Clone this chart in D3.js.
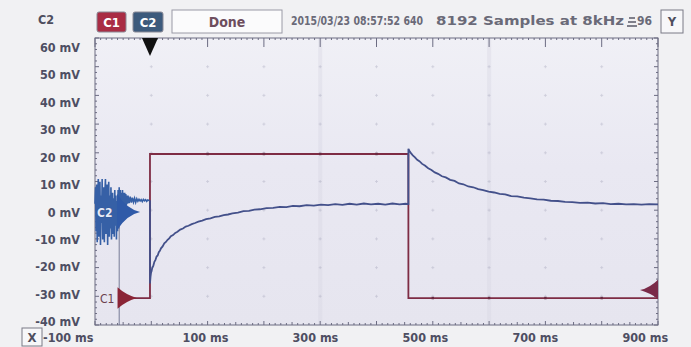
<!DOCTYPE html>
<html>
<head>
<meta charset="utf-8">
<script src="https://cdn.jsdelivr.net/npm/d3@7"></script>
<style>
  html, body { margin: 0; padding: 0; background: #f1f1f3; }
  svg { display: block; }
  text { font-family: "DejaVu Sans Condensed", "DejaVu Sans", sans-serif; }
</style>
</head>
<body>
<svg id="scope" width="691" height="347"></svg>
<script>
// ---- capture data -------------------------------------------------------
const channelNames = ["C1", "C2"];
const statusText = "Done";
const stampText = "2015/03/23 08:57:52 640";
const samplesText = "8192 Samples at 8kHz";
const timeDomain = [-100, 924];          // ms, 8192 samples at 8 kHz
const voltDomain = [-41.1, 63.3];        // mV
const xTickValues = [-100, 100, 300, 500, 700, 900];
const yTickValues = [60, 50, 40, 30, 20, 10, 0, -10, -20, -30, -40];

// C1: stimulus step (ms, mV)
const c1Time = [-58, 0, 0, 470, 470, 924];
const c1Volt = [-31.3, -31.3, 21.1, 21.1, -31.3, -31.3];

// C2: response (ms, mV)
const c2Time = [
  -100,-99,-98,-97,-96,-95,-94,-93,-92,-91,-90,-89,-88,-87,-86,-85,-84,-83,-82,-81,
  -80,-79,-78,-77,-76,-75,-74,-73,-72,-71,-70,-69,-68,-67,-66,-65,-64,-63,-62,-61,
  -60,-59,-58,-57,-56,-55,-54,-53,-52,-51,-50,-49,-48,-47,-46,-45,-44,-43,-42,-41,
  -40,-38,-36,-34,-32,-30,-28,-26,-24,-22,-20,-18,-16,-14,-12,-10,-8,-6,-4,-2,-1,
  0,0,1,2,3,4,6,8,10,12,14,16,18,20,23,26,29,32,35,38,42,46,50,55,60,65,70,76,82,88,95,
  102,110,118,126,134,142,150,160,170,180,190,200,212,224,236,248,260,272,285,298,
  311,324,337,350,363,376,389,402,415,428,441,454,465,470,
  470,472,475,478,482,486,490,495,500,506,512,518,524,531,538,546,554,562,570,579,
  588,597,606,616,626,636,646,657,668,680,692,704,716,729,742,755,768,782,796,810,
  824,838,852,866,880,894,908,924
];
const c2Volt = [
  3,9,-7,10,-11,5,12,-9,2,11,-12,6,-4,12,-10,3,9,-11,7,12,
  -8,-2,10,-12,4,11,-9,6,-6,9,-10,3,7,-8,5,-9,8,-5,6,-10,
  4,-7,8,-6,9,-4,8,-3,7,-1,8,0,7,1,7,2,6.5,2.5,6,3,
  6,3.2,5.6,3.4,5.2,3.6,5,3.5,4.8,3.9,4.6,4,4.5,3.8,4.6,4.1,4.5,3.9,4.4,4.2,4.3,
  4.3,-26,-23.5,-22,-21.5,-20.4,-19.6,-18.1,-17.4,-16.2,-15.8,-14.6,-14.1,-13.2,-12.5,-11.4,-10.9,-10.1,-9.6,-8.8,-8.4,-7.6,-7.2,-6.4,-6.0,-5.3,-5.0,-4.4,-4.0,-3.5,-3.1,
  -2.6,-2.3,-1.8,-1.6,-1.1,-0.9,-0.5,-0.2,0.3,0.4,0.9,1.0,1.4,1.5,1.9,1.8,2.2,2.1,2.5,2.3,
  2.7,2.5,2.9,2.6,3.0,2.7,3.1,2.8,3.0,2.7,3.1,2.8,3.0,2.9,
  23,22.2,21.3,20.6,19.9,19.0,18.5,17.5,16.9,15.9,15.3,14.4,13.9,13.0,12.6,11.7,11.3,10.4,10.1,9.3,
  9.0,8.3,8.0,7.4,7.1,6.6,6.4,5.8,5.7,5.2,5.0,4.6,4.5,4.1,4.0,3.7,3.6,3.3,3.4,3.1,
  3.2,2.9,3.0,2.8,2.9,2.7,2.9,2.8
];

// ---- layout -------------------------------------------------------------
const plot = { left: 95, right: 658, top: 38, bottom: 325 };
const svg = d3.select("#scope");

const x = d3.scaleLinear().domain(timeDomain).range([plot.left, plot.right]);
const y = d3.scaleLinear().domain(voltDomain).range([plot.bottom, plot.top]);

const defs = svg.append("defs");
const grad = defs.append("linearGradient").attr("id", "screen")
  .attr("x1", 0).attr("y1", 0).attr("x2", 0).attr("y2", 1);
grad.append("stop").attr("offset", "0%").attr("stop-color", "#f0f0f6");
grad.append("stop").attr("offset", "45%").attr("stop-color", "#e9e8f2");
grad.append("stop").attr("offset", "100%").attr("stop-color", "#e6e5ef");

// screen background
svg.append("rect")
  .attr("x", plot.left).attr("y", plot.top)
  .attr("width", plot.right - plot.left).attr("height", plot.bottom - plot.top)
  .attr("fill", "url(#screen)");

// graticule: 10 x 10 divisions, drawn very faintly
const divX = d3.range(11).map(i => plot.left + i * (plot.right - plot.left) / 10);
const divY = d3.range(11).map(i => plot.top + i * (plot.bottom - plot.top) / 10);
const grat = svg.append("g");
grat.selectAll("line.v").data([divX[4], divX[7]]).join("line")
  .attr("x1", d => d).attr("x2", d => d)
  .attr("y1", plot.top).attr("y2", plot.bottom)
  .attr("stroke", "#d6d5e2").attr("stroke-width", 4).attr("opacity", 0.35);
const crosses = [];
divX.slice(1, 10).forEach(cx => divY.slice(1, 10).forEach(cy => crosses.push([cx, cy])));
grat.selectAll("path.c").data(crosses).join("path")
  .attr("d", d => `M${d[0] - 1.5},${d[1]}h3M${d[0]},${d[1] - 1.5}v3`)
  .attr("stroke", "#a4a4ba").attr("stroke-width", 0.8).attr("opacity", 0.45);

// frame with ruler ticks
const frame = svg.append("g").attr("stroke", "#6c6c82").attr("stroke-width", 1);
frame.append("rect")
  .attr("x", plot.left).attr("y", plot.top)
  .attr("width", plot.right - plot.left).attr("height", plot.bottom - plot.top)
  .attr("fill", "none");
const minorX = d3.range(101).map(i => plot.left + i * (plot.right - plot.left) / 100);
frame.selectAll("line.tt").data(minorX).join("line")
  .attr("x1", d => d).attr("x2", d => d)
  .attr("y1", plot.top).attr("y2", (d, i) => plot.top + (i % 10 === 0 ? 9 : 2));
frame.selectAll("line.bt").data(minorX).join("line")
  .attr("x1", d => d).attr("x2", d => d)
  .attr("y1", plot.bottom).attr("y2", (d, i) => plot.bottom - (i % 10 === 0 ? 4 : (i % 5 === 0 ? 3 : 2)));
const minorY = d3.range(51).map(i => plot.top + i * (plot.bottom - plot.top) / 50);
frame.selectAll("line.lt").data(minorY).join("line")
  .attr("y1", d => d).attr("y2", d => d)
  .attr("x1", plot.left).attr("x2", (d, i) => plot.left + (i % 5 === 0 ? 4 : 2));
frame.selectAll("line.rt").data(minorY).join("line")
  .attr("y1", d => d).attr("y2", d => d)
  .attr("x1", plot.right).attr("x2", (d, i) => plot.right - (i % 5 === 0 ? 4 : 2));

// axes
const yAxis = svg.append("g")
  .attr("transform", `translate(${plot.left},0)`)
  .call(d3.axisLeft(y).tickValues(yTickValues).tickSize(0).tickPadding(15)
    .tickFormat(d => `${d} mV`));
yAxis.select(".domain").remove();
yAxis.selectAll("text")
  .attr("font-size", 12.5).attr("font-weight", "bold").attr("fill", "#4e4e62")
  .attr("font-family", "'DejaVu Sans Condensed', sans-serif");

const xAxis = svg.append("g")
  .attr("transform", `translate(0,${plot.bottom})`)
  .call(d3.axisBottom(x).tickValues(xTickValues).tickSize(0).tickPadding(8)
    .tickFormat(d => `${d} ms`));
xAxis.select(".domain").remove();
xAxis.selectAll("text")
  .attr("font-size", 12.5).attr("font-weight", "bold").attr("fill", "#4e4e62")
  .attr("font-family", "'DejaVu Sans Condensed', sans-serif")
  .attr("text-anchor", d => d === timeDomain[0] ? "end" : "middle")
  .attr("dx", d => d === timeDomain[0] ? -2 : 0);

// cursor line
svg.append("line")
  .attr("x1", x(-56)).attr("x2", x(-56)).attr("y1", y(-2)).attr("y2", plot.bottom)
  .attr("stroke", "#5c6282").attr("stroke-width", 1).attr("opacity", 0.8);

// traces
const line = d3.line().x(d => x(d[0])).y(d => y(d[1]));
const c1 = c1Time.map((t, i) => [t, c1Volt[i]]);
const c2 = c2Time.map((t, i) => [t, c2Volt[i]]);

svg.append("path").datum(c1)
  .attr("d", line).attr("fill", "none")
  .attr("stroke", "#7e2c44").attr("stroke-width", 1.8);
svg.append("path").datum(c2.filter(d => d[0] < 0))
  .attr("d", line).attr("fill", "none")
  .attr("stroke", "#3660a6").attr("stroke-width", 1.6);
svg.append("path").datum(c2.filter((d, i) => d[0] >= 0 && i > 0))
  .attr("d", line).attr("fill", "none")
  .attr("stroke", "#43508a").attr("stroke-width", 1.8);

// graticule dots that show on top of the step levels
svg.selectAll("rect.dot").data(divX.slice(2, 10).map(cx => {
    const t = x.invert(cx);
    return [cx, (t > 0 && t < 470) ? c1Volt[2] : c1Volt[0]];
  })).join("rect")
  .attr("x", d => d[0] - 1.2).attr("y", d => y(d[1]) - 1.2)
  .attr("width", 2.4).attr("height", 2.4).attr("fill", "#6a2a40");

// channel offset markers
svg.append("path")
  .attr("d", `M${x(-59)},${y(-27.4)} Q${x(-45)},${y(-30)} ${x(-24)},${y(-31.3)} Q${x(-45)},${y(-32.6)} ${x(-59)},${y(-35.2)} Z`)
  .attr("fill", "#8a2436");
svg.append("path")
  .attr("d", `M${x(-60)},${y(6.6)} Q${x(-42)},${y(1)} ${x(-18)},${y(0)} Q${x(-42)},${y(-1)} ${x(-60)},${y(-6.6)} Z`)
  .attr("fill", "#2f5aa8");
svg.append("path")
  .attr("d", `M${plot.right},${y(-24.6)} Q${plot.right - 8},${y(-27.5)} ${plot.right - 18},${y(-28.4)} Q${plot.right - 8},${y(-29.5)} ${plot.right},${y(-31.6)} Z`)
  .attr("fill", "#7a2a48");

svg.append("text").text(channelNames[1])
  .attr("x", 97).attr("y", y(0) + 4.5)
  .attr("font-size", 12).attr("font-weight", "bold")
  .attr("fill", "#e4e9f6").attr("stroke", "#2e4c88").attr("stroke-width", 0.7)
  .attr("paint-order", "stroke");
svg.append("text").text(channelNames[0])
  .attr("x", 100).attr("y", y(-31.3) + 4.5)
  .attr("font-size", 12).attr("fill", "#6a3e4c");

// trigger marker
svg.append("path")
  .attr("d", `M${x(0) - 8},${plot.top} L${x(0) + 8},${plot.top} L${x(0)},${plot.top + 18} Z`)
  .attr("fill", "#111");

// header
svg.append("text").text(channelNames[1])
  .attr("x", 38).attr("y", 24).attr("font-size", 12.5).attr("font-weight", "bold")
  .attr("fill", "#4e4e5e");

const buttons = [
  { label: channelNames[0], x: 97, w: 29, fill: "#a92c44", color: "#fff" },
  { label: channelNames[1], x: 133, w: 30, fill: "#3c5a7c", color: "#fff" }
];
const btn = svg.selectAll("g.btn").data(buttons).join("g");
btn.append("rect")
  .attr("x", d => d.x).attr("y", 12).attr("width", d => d.w).attr("height", 20)
  .attr("rx", 2).attr("fill", d => d.fill).attr("stroke", "#8a8a96").attr("stroke-width", 1);
btn.append("text").text(d => d.label)
  .attr("x", d => d.x + d.w / 2).attr("y", 27).attr("text-anchor", "middle")
  .attr("font-size", 13).attr("font-weight", "bold").attr("fill", d => d.color);

svg.append("rect")
  .attr("x", 172).attr("y", 10).attr("width", 110).attr("height", 23)
  .attr("fill", "#fbfbfc").attr("stroke", "#9a9aa6").attr("stroke-width", 1);
svg.append("text").text(statusText)
  .attr("x", 227).attr("y", 27).attr("text-anchor", "middle")
  .attr("font-size", 14).attr("font-weight", "bold").attr("fill", "#6e4e5e")
  .attr("font-family", "'DejaVu Sans', sans-serif");

svg.append("text").text(stampText)
  .attr("x", 291).attr("y", 25).attr("font-size", 12.5).attr("font-weight", "bold")
  .attr("fill", "#6a6a78")
  .attr("textLength", 132).attr("lengthAdjust", "spacingAndGlyphs");
svg.append("text").text(samplesText)
  .attr("x", 436).attr("y", 25).attr("font-size", 12.5).attr("font-weight", "bold")
  .attr("fill", "#6a6a78")
  .attr("textLength", 188).attr("lengthAdjust", "spacingAndGlyphs");

// zoom glyph + count
svg.append("path")
  .attr("d", "M627,26h10M628,22h8M629,18h6")
  .attr("stroke", "#5a5a68").attr("stroke-width", 1.4);
svg.append("text").text("96")
  .attr("x", 637).attr("y", 25).attr("font-size", 12).attr("font-weight", "bold")
  .attr("fill", "#6a6a78");

// axis buttons
svg.append("rect").attr("x", 661).attr("y", 10).attr("width", 22).attr("height", 23)
  .attr("fill", "#f7f7f9").attr("stroke", "#7a7a86");
svg.append("text").text("Y").attr("x", 672).attr("y", 26).attr("text-anchor", "middle")
  .attr("font-size", 13).attr("font-weight", "bold").attr("fill", "#4e4e5e");
svg.append("rect").attr("x", 22).attr("y", 328).attr("width", 20).attr("height", 18)
  .attr("fill", "#f7f7f9").attr("stroke", "#7a7a86");
svg.append("text").text("X").attr("x", 32).attr("y", 342).attr("text-anchor", "middle")
  .attr("font-size", 13).attr("font-weight", "bold").attr("fill", "#4e4e5e");
</script>
</body>
</html>
